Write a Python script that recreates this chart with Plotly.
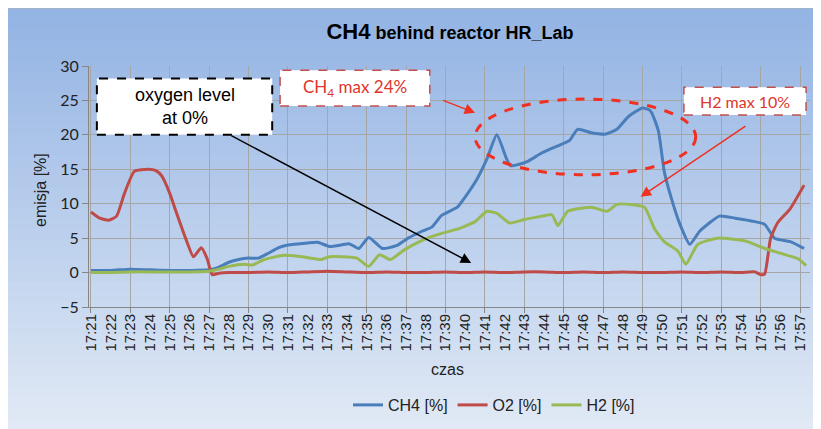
import plotly.graph_objects as go

# minutes after 17:21
minutes = list(range(0, 37))
tick_labels = [f"17:{21 + m:02d}" for m in minutes]

ch4_t = [0, 1, 2, 3, 4, 5, 6, 6.5, 7, 7.5, 8, 8.5, 9, 9.5, 10, 11, 11.5, 12.1, 12.7, 13.1,
         13.6, 14.1, 14.8, 15.5, 16.1, 16.8, 17.3, 17.8, 18.6, 19.0, 19.6, 20.1, 20.6, 21.1,
         21.3, 21.7, 22.2, 22.9, 23.7, 24.3, 24.7, 25.4, 26.1, 26.7, 27.3, 28.0, 28.4, 28.8,
         29.1, 29.4, 29.9, 30.4, 30.9, 31.9, 32.7, 33.7, 34.2, 34.7, 35.5, 36.2]
ch4_v = [0.3, 0.3, 0.5, 0.4, 0.3, 0.3, 0.4, 0.8, 1.5, 1.9, 2.1, 2.1, 2.8, 3.6, 4.0, 4.3, 4.4,
         3.8, 4.0, 4.2, 3.5, 5.1, 3.5, 3.9, 5.0, 6.0, 6.6, 8.3, 9.5, 11.0, 13.6, 16.5, 20.0,
         16.5, 15.5, 15.7, 16.2, 17.4, 18.4, 19.2, 20.8, 20.3, 20.1, 20.8, 22.7, 23.9, 23.5,
         20.6, 14.7, 11.4, 7.0, 4.1, 6.0, 8.2, 7.9, 7.4, 7.0, 5.0, 4.5, 3.5]

o2_t = [0, 0.45, 0.9, 1.3, 1.7, 2.2, 2.9, 3.3, 3.6, 4.0, 4.3, 4.8, 5.2, 5.6, 5.9, 6.15, 6.5,
        7, 8, 9, 10, 11, 12, 13, 14, 15, 16, 17, 18, 19, 20, 21, 22, 23, 24, 25, 26, 27, 28,
        29, 30, 31, 32, 33, 33.7, 34.0, 34.2, 34.5, 34.85, 35.5, 36.2]
o2_v = [8.8, 7.9, 7.6, 8.2, 11.5, 14.7, 15.0, 14.8, 14.0, 11.5, 9.0, 5.0, 2.3, 3.6, 2.0, -0.3,
        -0.1, 0.0, 0.0, 0.1, 0.0, 0.1, 0.2, 0.1, 0.0, 0.1, 0.0, 0.0, 0.1, 0.0, 0.1, 0.0, 0.1,
        0.1, 0.0, 0.1, 0.0, 0.1, 0.0, 0.0, 0.1, 0.0, 0.1, 0.0, 0.1, -0.3, -0.2, 5.0, 7.2, 9.3,
        12.7]

h2_t = [0, 1, 2, 3, 4, 5, 6, 6.5, 7, 7.8, 8.2, 8.8, 9.8, 10.7, 11.7, 12.1, 12.7, 13.5, 14.1,
        14.65, 15.2, 15.9, 16.9, 17.8, 18.6, 19.5, 20.1, 20.6, 21.25, 22.0, 22.9, 23.4, 23.7,
        24.2, 25.4, 26.2, 26.7, 27.4, 28.1, 28.6, 29.1, 29.8, 30.2, 30.8, 31.8, 33.2, 34.2,
        35.0, 35.9, 36.3]
h2_v = [0.0, 0.0, 0.1, 0.1, 0.1, 0.1, 0.2, 0.5, 0.9, 1.2, 1.1, 1.9, 2.5, 2.3, 1.9, 2.3, 2.3,
        2.1, 0.9, 2.6, 1.9, 3.3, 4.8, 5.7, 6.3, 7.4, 8.9, 8.6, 7.2, 7.7, 8.2, 8.4, 6.8, 8.9,
        9.5, 8.9, 9.9, 9.9, 9.5, 6.4, 4.5, 3.1, 1.2, 4.1, 5.0, 4.6, 3.5, 2.8, 2.0, 1.0]

# page has an 8px body margin, so the figure is shifted by that much
OFF = 8
W, H = 821 - OFF, 429 - OFF
L, R, T, B = 89, 810, 66, 307          # plot area in screenshot pixels
PW, PH = R - L, B - T


def px(x):
    return (x - L) / PW


def py(y):
    return (B - y) / PH


fig = go.Figure()
narrow = "Liberation Sans Narrow, Arial Narrow, sans-serif"

for name, t, v, color in [("CH4 [%]", ch4_t, ch4_v, "#4a7ebb"),
                          ("O2 [%]", o2_t, o2_v, "#be4b48"),
                          ("H2 [%]", h2_t, h2_v, "#98b954")]:
    fig.add_trace(go.Scatter(x=t, y=v, name=name, mode="lines",
                             line=dict(color=color, width=3, shape="spline", smoothing=0.5)))

# helper trace so the 2-minute grid axis gets drawn
fig.add_trace(go.Scatter(x=[None], y=[None], xaxis="x2", showlegend=False, hoverinfo="skip"))

shapes = []
# background gradient of the chart frame
top = (148, 180, 228)
bot = (224, 233, 245)
n = 40
y0, y1 = 8, 429
for i in range(n):
    f = i / (n - 1)
    c = tuple(int(top[k] + (bot[k] - top[k]) * f) for k in range(3))
    ya = y0 + (y1 - y0) * i / n
    yb = y0 + (y1 - y0) * (i + 1) / n + 1
    shapes.append(dict(type="rect", xref="paper", yref="paper", x0=px(5), x1=px(823),
                       y0=py(ya), y1=py(yb), fillcolor=f"rgb{c}", line_width=0, layer="below"))
shapes.append(dict(type="rect", xref="paper", yref="paper", x0=px(5), x1=px(823),
                   y0=py(8), y1=py(431), line=dict(color="#b0b0b0", width=1), layer="below"))

# annotation boxes
shapes.append(dict(type="rect", x0=0.3, x1=9.2, y0=20.0, y1=28.2, fillcolor="white",
                   line=dict(color="black", width=2, dash="dash")))
shapes.append(dict(type="rect", x0=9.6, x1=17.2, y0=24.2, y1=29.4, fillcolor="white",
                   line=dict(color="#c0504d", width=1.5, dash="dash")))
shapes.append(dict(type="rect", x0=30.1, x1=36.3, y0=22.9, y1=26.9, fillcolor="white",
                   line=dict(color="#c0504d", width=1.5, dash="dash")))
shapes.append(dict(type="circle", x0=19.5, x1=30.7, y0=14.2, y1=25.2,
                   line=dict(color="#f03020", width=3, dash="dash")))

annotations = [
    dict(x=4.75, y=24.1, text="oxygen level<br>at 0%", showarrow=False,
         font=dict(family="Liberation Sans, Arial, sans-serif", size=18, color="black")),
    dict(x=13.4, y=26.8, text="CH<sub>4</sub> max 24%", showarrow=False,
         font=dict(family="Lato, sans-serif", size=17, color="#e0352c")),
    dict(x=33.2, y=24.9, text="H2 max 10%", showarrow=False,
         font=dict(family="Lato, sans-serif", size=16, color="#e0352c")),
    dict(x=19.3, y=1.4, ax=7.05, ay=20.0, axref="x", ayref="y", text="", showarrow=True,
         arrowhead=2, arrowsize=1.4, arrowwidth=1.5, arrowcolor="black"),
    dict(x=19.5, y=23.2, ax=17.8, ay=25.1, axref="x", ayref="y", text="", showarrow=True,
         arrowhead=2, arrowsize=1.4, arrowwidth=1.5, arrowcolor="#f03020"),
    dict(x=27.9, y=11.0, ax=33.3, ay=21.4, axref="x", ayref="y", text="", showarrow=True,
         arrowhead=2, arrowsize=1.4, arrowwidth=1.5, arrowcolor="#f03020"),
    dict(xref="paper", yref="paper", x=px(447), y=py(369), xanchor="center", yanchor="middle",
         text="czas", showarrow=False, font=dict(family=narrow, size=16, color="#222")),
    dict(xref="paper", yref="paper", x=px(40), y=py(190), xanchor="center", yanchor="middle",
         text="emisja [%]", showarrow=False, textangle=-90,
         font=dict(family=narrow, size=16, color="#222")),
]

fig.update_layout(
    width=W, height=H,
    margin=dict(l=L - OFF, r=W - (R - OFF), t=T - OFF, b=H - (B - OFF)),
    paper_bgcolor="white", plot_bgcolor="#f2f2f2",
    shapes=shapes, annotations=annotations,
    title=dict(text="<b><span style='font-size:22px'>CH4</span> behind reactor HR_Lab</b>",
               x=(450 - OFF) / W, xref="container", xanchor="center",
               y=1 - (33 - OFF) / H, yref="container", yanchor="middle",
               font=dict(family=narrow, size=18, color="black")),
    showlegend=True,
    legend=dict(orientation="h", x=(494 - OFF) / W, xref="container", xanchor="center",
                y=1 - (405 - OFF) / H, yref="container", yanchor="middle",
                bgcolor="rgba(0,0,0,0)", font=dict(family=narrow, size=16, color="#222")),
    xaxis=dict(range=[-0.1, 36.5], tickmode="array", tickvals=minutes, ticktext=tick_labels,
               tickangle=-90, showgrid=False, zeroline=False, showline=True,
               linecolor="#868686", ticks="",
               tickfont=dict(family="Liberation Sans, Arial, sans-serif", size=15, color="#222")),
    xaxis2=dict(overlaying="x", matches="x", anchor="y", side="bottom", tickmode="array",
                tickvals=minutes[::2], showticklabels=False, showgrid=True,
                gridcolor="#a6a6a6", ticks="outside", ticklen=5, tickcolor="#868686",
                zeroline=False),
    yaxis=dict(range=[-5, 30], dtick=5, showgrid=True, gridcolor="#a6a6a6", zeroline=False,
               showline=True, linecolor="#868686", ticks="outside", ticklen=6,
               tickcolor="#868686",
               tickfont=dict(family="Lato, sans-serif", size=16, color="#222")),
)

fig.write_html("out.html")
